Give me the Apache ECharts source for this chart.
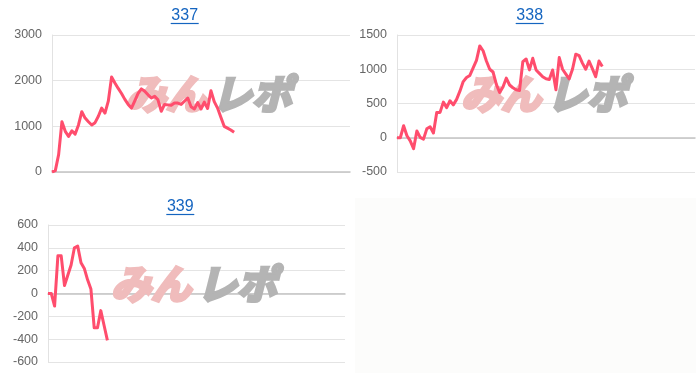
<!DOCTYPE html>
<html>
<head>
<meta charset="utf-8">
<script src="https://cdn.jsdelivr.net/npm/echarts@6/dist/echarts.min.js"></script>
<style>
html,body{margin:0;padding:0;background:#fff;}
#c{width:700px;height:378px;}
</style>
</head>
<body>
<div id="c"></div>
<script>
// Chart titles
var titles = ['337', '338', '339'];
// Y-axis ranges (min, max, interval)
var yMin = [0, -500, -600];
var yMax = [3000, 1500, 600];
var yStep = [1000, 500, 200];
// Shared x-axis slots (no labels shown)
var slotCount = 91;
var categories = [];
for (var k = 1; k <= slotCount; k++) categories.push(String(k));

// Series values
var data337 = [0, 30, 380, 1100, 890, 780, 900, 830, 1030, 1320, 1180, 1100, 1030, 1080, 1220, 1400, 1290, 1550, 2080, 1950,
  1830, 1720, 1590, 1480, 1400, 1560, 1720, 1820, 1770, 1690, 1620, 1660, 1580, 1330, 1480, 1470, 1460, 1510, 1510, 1480,
  1550, 1620, 1430, 1380, 1520, 1380, 1530, 1390, 1780, 1540, 1400, 1200, 1000, 960, 920, 870];
var data338 = [0, 0, 175, 30, -45, -160, 100, 5, -20, 130, 160, 70, 370, 370, 520, 440, 540, 480, 560, 680,
  820, 880, 910, 1020, 1130, 1340, 1270, 1120, 1000, 960, 780, 660, 740, 870, 770, 730, 700, 690, 1110, 1150,
  990, 1160, 990, 940, 890, 860, 850, 990, 700, 1170, 1000, 930, 860, 1000, 1220, 1200, 1090, 1000, 1120, 1010,
  890, 1120, 1040];
var data339 = [0, 0, -110, 330, 330, 70, 160, 250, 400, 415, 270, 220, 120, 40, -300, -300, -150, -280, -410];

var seriesData = [data337, data338, data339];
var grids = [
  {left: 52, top: 35, width: 298, height: 137},
  {left: 397, top: 35, width: 298, height: 137},
  {left: 48, top: 225, width: 297, height: 137}
];
var titlePos = [[184.7, 16], [529.7, 16], [180.3, 207]];
var markPos = [[126, 94], [461, 94], [111, 284]];

var xAxes = [], yAxes = [], series = [], graphic = [];
graphic.push({type: 'rect', shape: {x: 355, y: 198, width: 341, height: 175}, style: {fill: '#fcfcfb'}, z: -1});
for (var i = 0; i < 3; i++) {
  xAxes.push({
    type: 'category', gridIndex: i, data: categories, boundaryGap: false,
    axisLine: {show: true, onZero: true, lineStyle: {color: '#c4c4c4', width: 1.5}},
    axisTick: {show: false}, axisLabel: {show: false}, splitLine: {show: false}
  });
  yAxes.push({
    type: 'value', gridIndex: i, min: yMin[i], max: yMax[i], interval: yStep[i],
    axisLine: {show: true, lineStyle: {color: '#e2e2e2'}},
    axisTick: {show: false},
    axisLabel: {color: '#666', fontSize: 12.5, margin: 10, fontFamily: 'Liberation Sans, Arial, sans-serif',
      formatter: function (v) { return String(v); }},
    splitLine: {lineStyle: {color: '#e4e4e4'}}
  });
  series.push({
    type: 'line', xAxisIndex: i, yAxisIndex: i, data: seriesData[i],
    symbol: 'none', smooth: false, z: 3,
    lineStyle: {color: '#ff4d6d', width: 3, join: 'round'}
  });
  graphic.push({
    type: 'text', x: titlePos[i][0], y: titlePos[i][1], z: 5,
    style: {text: titles[i], fill: '#1565c0', font: '16px "Liberation Sans", Arial, sans-serif', textAlign: 'center', textVerticalAlign: 'middle'}
  });
  graphic.push({
    type: 'line', z: 5,
    shape: {x1: titlePos[i][0] - 14, y1: titlePos[i][1] + 7.5, x2: titlePos[i][0] + 14, y2: titlePos[i][1] + 7.5},
    style: {stroke: '#1565c0', lineWidth: 1.2}
  });
  graphic.push({
    type: 'text', x: markPos[i][0], y: markPos[i][1], z: 1,
    style: {text: 'みん', fill: '#f0bcbc', stroke: '#f0bcbc', lineWidth: 3.5,
      font: 'italic bold 40px "Noto Sans CJK JP", sans-serif', textVerticalAlign: 'middle'}
  });
  graphic.push({
    type: 'text', x: markPos[i][0] + 86, y: markPos[i][1], z: 1,
    style: {text: 'レポ', fill: '#b4b4b4', stroke: '#b4b4b4', lineWidth: 3.5,
      font: 'italic bold 40px "Noto Sans CJK JP", sans-serif', textVerticalAlign: 'middle'}
  });
}

var chart = echarts.init(document.getElementById('c'), null, {renderer: 'canvas'});
chart.setOption({
  animation: false,
  backgroundColor: '#fff',
  grid: grids,
  xAxis: xAxes,
  yAxis: yAxes,
  series: series,
  graphic: graphic
});
</script>
</body>
</html>
